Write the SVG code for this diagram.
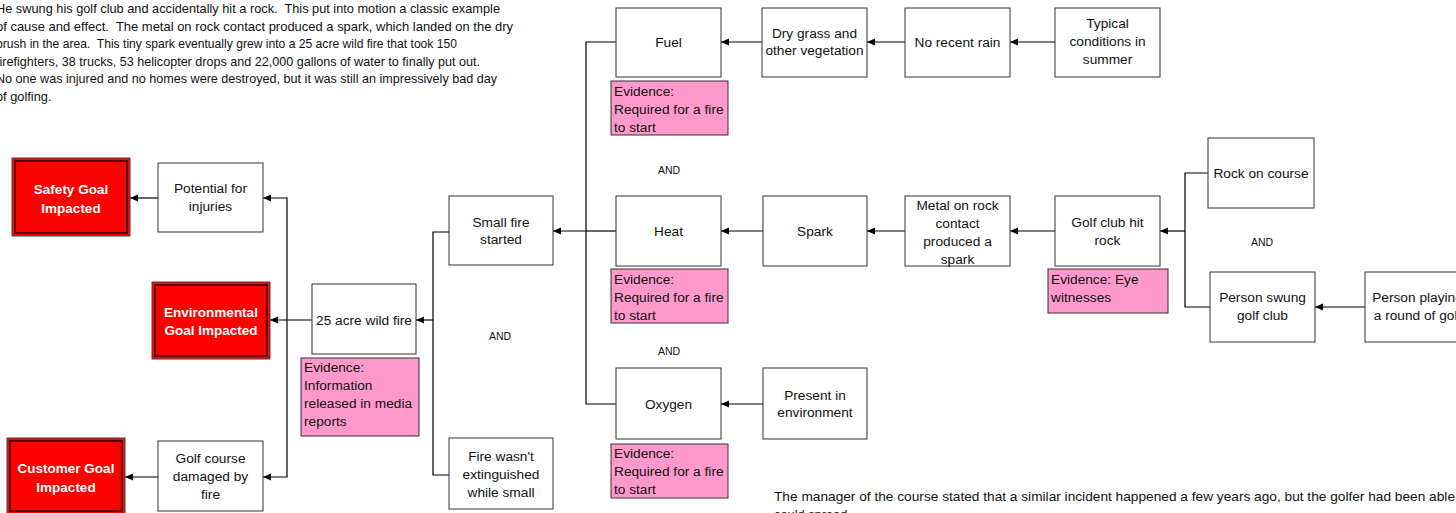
<svg xmlns="http://www.w3.org/2000/svg" width="1456" height="513" viewBox="0 0 1456 513">
<style>
text{font-family:"Liberation Sans",Arial,sans-serif;white-space:pre}
.box{fill:#fff;stroke:#333;stroke-width:1}
.t{font-size:13.7px;fill:#111;text-anchor:middle}
.ev{fill:#ff99cc;stroke:#333;stroke-width:1}
.et{font-size:13.7px;fill:#111}
.goal{fill:#ff0000;stroke:#444;stroke-width:1}
.goalin{fill:none;stroke:#5a0000;stroke-width:2}
.gt{font-size:13.5px;font-weight:bold;fill:#fff;text-anchor:middle}
.and{font-size:10.5px;fill:#111;text-anchor:middle}
.para{font-size:12.8px;fill:#111}
.c{fill:none;stroke:#000;stroke-width:1.2}
</style>
<defs>
<marker id="ah" markerWidth="8" markerHeight="8" refX="8" refY="4" orient="auto" markerUnits="userSpaceOnUse">
<path d="M0,0.5 L8,4 L0,7.5 z" fill="#000"/>
</marker>
</defs>

<g id="intro">
<text class="para" x="-4" y="13" textLength="504" lengthAdjust="spacingAndGlyphs">He swung his golf club and accidentally hit a rock.  This put into motion a classic example</text>
<text class="para" x="-4" y="30.6" textLength="517" lengthAdjust="spacingAndGlyphs">of cause and effect.  The metal on rock contact produced a spark, which landed on the dry</text>
<text class="para" x="-4" y="48.2" textLength="461" lengthAdjust="spacingAndGlyphs">brush in the area.  This tiny spark eventually grew into a 25 acre wild fire that took 150</text>
<text class="para" x="-4" y="65.8" textLength="484" lengthAdjust="spacingAndGlyphs">firefighters, 38 trucks, 53 helicopter drops and 22,000 gallons of water to finally put out.</text>
<text class="para" x="-4" y="83.4" textLength="501" lengthAdjust="spacingAndGlyphs">No one was injured and no homes were destroyed, but it was still an impressively bad day</text>
<text class="para" x="-4" y="101">of golfing.</text>
</g>

<g id="note">
<text class="para" x="774" y="501" textLength="681" lengthAdjust="spacingAndGlyphs">The manager of the course stated that a similar incident happened a few years ago, but the golfer had been able</text>
<text class="para" x="774" y="519">could spread.</text>
</g>

<g id="connectors">
<path class="c" d="M158,198 H130" marker-end="url(#ah)"/>
<path class="c" d="M158,477 H125" marker-end="url(#ah)"/>
<path class="c" d="M312,320 H270" marker-end="url(#ah)"/>
<path class="c" d="M287,320 V198 H263" marker-end="url(#ah)"/>
<path class="c" d="M287,320 V477 H263" marker-end="url(#ah)"/>
<path class="c" d="M449,232 H433 V475 H449"/>
<path class="c" d="M433,320 H416" marker-end="url(#ah)"/>
<path class="c" d="M616,42 H586 V404 H616"/>
<path class="c" d="M586,231 H616"/>
<path class="c" d="M586,231 H553" marker-end="url(#ah)"/>
<path class="c" d="M762,42 H721" marker-end="url(#ah)"/>
<path class="c" d="M905,42 H867" marker-end="url(#ah)"/>
<path class="c" d="M1055,42 H1010" marker-end="url(#ah)"/>
<path class="c" d="M763,231 H721" marker-end="url(#ah)"/>
<path class="c" d="M905,231 H867" marker-end="url(#ah)"/>
<path class="c" d="M1055,231 H1010" marker-end="url(#ah)"/>
<path class="c" d="M763,404 H721" marker-end="url(#ah)"/>
<path class="c" d="M1208,173 H1185 V307 H1210"/>
<path class="c" d="M1185,231 H1160" marker-end="url(#ah)"/>
<path class="c" d="M1365,307 H1315" marker-end="url(#ah)"/>
</g>

<g id="safety"><rect class="goal" x="12" y="158" width="118" height="78"/><rect class="goalin" x="15" y="161" width="112" height="72"/>
<text class="gt" x="71" y="194">Safety Goal</text><text class="gt" x="71" y="213">Impacted</text></g>
<g id="environmental"><rect class="goal" x="152" y="282" width="118" height="77"/><rect class="goalin" x="155" y="285" width="112" height="71"/>
<text class="gt" x="211" y="317">Environmental</text><text class="gt" x="211" y="335">Goal Impacted</text></g>
<g id="customer"><rect class="goal" x="7" y="438" width="118" height="76"/><rect class="goalin" x="10" y="441" width="112" height="70"/>
<text class="gt" x="66" y="473">Customer Goal</text><text class="gt" x="66" y="492">Impacted</text></g>

<g id="potential"><rect class="box" x="158" y="163" width="105" height="69"/>
<text class="t" x="210.5" y="193">Potential for</text><text class="t" x="210.5" y="211">injuries</text></g>
<g id="golfcourse"><rect class="box" x="158" y="441" width="105" height="70"/>
<text class="t" x="210.5" y="463">Golf course</text><text class="t" x="210.5" y="481">damaged by</text><text class="t" x="210.5" y="499">fire</text></g>

<g id="wildfire"><rect class="box" x="312" y="284" width="104" height="70"/>
<text class="t" x="364" y="325">25 acre wild fire</text></g>
<g id="ev-wildfire"><rect class="ev" x="301" y="358" width="118" height="78"/>
<text class="et" x="304" y="372">Evidence:</text><text class="et" x="304" y="390">Information</text><text class="et" x="304" y="408">released in media</text><text class="et" x="304" y="426">reports</text></g>

<g id="smallfire"><rect class="box" x="449" y="196" width="104" height="69"/>
<text class="t" x="501" y="227">Small fire</text><text class="t" x="501" y="244">started</text></g>
<g id="notextinguished"><rect class="box" x="449" y="438" width="104" height="71"/>
<text class="t" x="501" y="461">Fire wasn't</text><text class="t" x="501" y="479">extinguished</text><text class="t" x="501" y="497">while small</text></g>
<g id="and1"><text class="and" x="500" y="340">AND</text></g>

<g id="fuel"><rect class="box" x="616" y="8" width="105" height="69"/>
<text class="t" x="668.5" y="47">Fuel</text></g>
<g id="ev-fuel"><rect class="ev" x="611" y="81" width="117" height="54"/>
<text class="et" x="614" y="96">Evidence:</text><text class="et" x="614" y="114">Required for a fire</text><text class="et" x="614" y="132">to start</text></g>
<g id="and2"><text class="and" x="669" y="174">AND</text></g>
<g id="drygrass"><rect class="box" x="762" y="8" width="105" height="69"/>
<text class="t" x="814.5" y="38">Dry grass and</text><text class="t" x="814.5" y="55">other vegetation</text></g>
<g id="norain"><rect class="box" x="905" y="8" width="105" height="69"/>
<text class="t" x="957.5" y="47">No recent rain</text></g>
<g id="typical"><rect class="box" x="1055" y="8" width="105" height="69"/>
<text class="t" x="1107.5" y="28">Typical</text><text class="t" x="1107.5" y="46">conditions in</text><text class="t" x="1107.5" y="64">summer</text></g>

<g id="heat"><rect class="box" x="616" y="196" width="105" height="70"/>
<text class="t" x="668.5" y="236">Heat</text></g>
<g id="ev-heat"><rect class="ev" x="611" y="269" width="117" height="54"/>
<text class="et" x="614" y="284">Evidence:</text><text class="et" x="614" y="302">Required for a fire</text><text class="et" x="614" y="320">to start</text></g>
<g id="and3"><text class="and" x="669" y="355">AND</text></g>
<g id="spark"><rect class="box" x="763" y="196" width="104" height="70"/>
<text class="t" x="815" y="236">Spark</text></g>
<g id="metal"><rect class="box" x="905" y="196" width="105" height="70"/>
<text class="t" x="957.5" y="210">Metal on rock</text><text class="t" x="957.5" y="228">contact</text><text class="t" x="957.5" y="246">produced a</text><text class="t" x="957.5" y="264">spark</text></g>
<g id="golfclub"><rect class="box" x="1055" y="196" width="105" height="70"/>
<text class="t" x="1107.5" y="227">Golf club hit</text><text class="t" x="1107.5" y="245">rock</text></g>
<g id="ev-golfclub"><rect class="ev" x="1048" y="269" width="120" height="44"/>
<text class="et" x="1051" y="284">Evidence: Eye</text><text class="et" x="1051" y="302">witnesses</text></g>
<g id="rock"><rect class="box" x="1208" y="138" width="106" height="70"/>
<text class="t" x="1261" y="178">Rock on course</text></g>
<g id="and4"><text class="and" x="1262" y="246">AND</text></g>
<g id="swung"><rect class="box" x="1210" y="272" width="105" height="70"/>
<text class="t" x="1262.5" y="302">Person swung</text><text class="t" x="1262.5" y="320">golf club</text></g>
<g id="playing"><rect class="box" x="1365" y="272" width="105" height="70"/>
<text class="t" x="1417.5" y="302">Person playing</text><text class="t" x="1417.5" y="320">a round of golf</text></g>

<g id="oxygen"><rect class="box" x="616" y="368" width="105" height="71"/>
<text class="t" x="668.5" y="409">Oxygen</text></g>
<g id="ev-oxygen"><rect class="ev" x="611" y="444" width="117" height="54"/>
<text class="et" x="614" y="458">Evidence:</text><text class="et" x="614" y="476">Required for a fire</text><text class="et" x="614" y="494">to start</text></g>
<g id="present"><rect class="box" x="763" y="368" width="104" height="71"/>
<text class="t" x="815" y="400">Present in</text><text class="t" x="815" y="417">environment</text></g>
</svg>
